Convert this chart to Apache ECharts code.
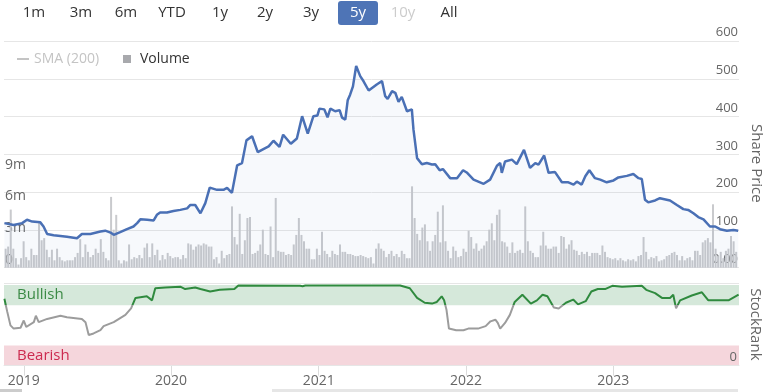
<!DOCTYPE html>
<html><head><meta charset="utf-8">
<script src="https://cdn.jsdelivr.net/npm/echarts@6/dist/echarts.min.js"></script>
<style>html,body{margin:0;padding:0;background:#fff}#c{width:765px;height:392px}</style>
</head><body><div id="c"></div>
<script>
// ---------- DATA ----------
const priceDates = ['2018-11-14','2018-12-07','2018-12-28','2019-01-09','2019-01-22','2019-02-11','2019-02-19','2019-02-28','2019-03-16','2019-04-02',
'2019-04-18','2019-05-13','2019-05-25','2019-06-15','2019-07-10','2019-07-22','2019-08-04','2019-08-12','2019-08-28','2019-09-14',
'2019-09-30','2019-10-09','2019-10-17','2019-11-03','2019-11-19','2019-11-27','2019-12-05','2019-12-22','2020-01-07','2020-01-24',
'2020-02-10','2020-02-18','2020-03-01','2020-03-14','2020-03-26','2020-04-06','2020-04-24','2020-05-10','2020-05-19','2020-05-31',
'2020-06-13','2020-06-25','2020-07-06','2020-07-20','2020-08-03','2020-08-17','2020-08-30','2020-09-11','2020-09-26','2020-10-05',
'2020-10-24','2020-11-08','2020-11-21','2020-12-05','2020-12-19','2020-12-29','2021-01-03','2021-01-15','2021-01-23','2021-01-30',
'2021-02-11','2021-02-22','2021-02-28','2021-03-08','2021-03-14','2021-03-20','2021-03-27','2021-04-04','2021-04-14','2021-04-22',
'2021-05-05','2021-05-09','2021-05-25','2021-06-07','2021-06-15','2021-06-21','2021-07-02','2021-07-10','2021-07-18','2021-07-26',
'2021-08-08','2021-08-20','2021-08-24','2021-09-02','2021-09-14','2021-09-26','2021-10-09','2021-10-17','2021-10-28','2021-11-05',
'2021-11-23','2021-12-10','2021-12-25','2022-01-03','2022-01-20','2022-02-14','2022-03-02','2022-03-19','2022-03-27','2022-03-31',
'2022-04-08','2022-04-25','2022-05-07','2022-05-25','2022-06-09','2022-06-22','2022-06-30','2022-07-14','2022-07-25','2022-08-10',
'2022-08-27','2022-09-12','2022-09-25','2022-10-03','2022-10-15','2022-10-24','2022-11-03','2022-11-17','2022-11-30','2022-12-16',
'2023-01-02','2023-01-14','2023-02-04','2023-02-20','2023-03-05','2023-03-13','2023-03-21','2023-03-29','2023-04-15','2023-04-27',
'2023-05-22','2023-06-08','2023-06-24','2023-07-06','2023-07-19','2023-07-31','2023-08-13','2023-08-29','2023-09-11','2023-09-23',
'2023-10-10','2023-10-26','2023-11-07'];
const priceValues = [118,113,118,127,122,120,109,89,86,84,
82,78,89,89,96,98,93,87,94,102,
109,118,128,127,125,140,146,146,150,153,
157,166,166,144,171,212,206,206,211,198,
271,277,337,348,306,314,321,336,320,352,
328,342,401,355,401,403,421,419,398,421,
414,417,397,392,443,458,480,534,507,494,
469,465,485,494,454,447,467,463,439,452,
414,419,366,290,274,277,273,274,258,261,
237,237,258,252,233,222,233,270,277,251,
281,286,274,312,264,277,273,297,251,253,
226,226,220,228,220,242,258,237,233,226,
231,239,243,248,237,235,180,173,178,184,
178,166,155,153,144,134,128,109,109,102,
98,100,98];

// volume in millions, evenly spaced bars from first to last bar date
const volumeFirstDate = '2018-11-17';
const volumeLastDate = '2023-11-02';
const volumeValues = [
1.8,2.0,5.5,1.8,0.9,0.3,0.9,2.5,1.0,0.7,1.8,1.2,1.2,4.4,2.6,2.8,1.7,1.0,1.7,0.7,1.8,1.0,0.7,0.6,0.7,0.7,0.7,1.0,1.4,2.7,1.0,2.2,1.5,1.0,1.2,1.8,1.4,2.7,1.5,0.9,0.7,6.7,3.6,5.0,0.7,0.4,0.7,0.6,
2.2,0.8,1.0,0.9,1.2,0.9,1.9,2.3,1.0,2.3,1.2,1.7,0.7,1.2,0.8,1.4,1.1,0.9,1.0,1.0,0.8,1.2,0.9,2.3,2.2,1.7,2.0,
2.2,2.1,2.3,2.2,2.0,2.0,0.8,1.0,0.4,1.6,0.9,1.2,1.3,5.8,2.9,2.2,5.1,1.3,2.6,4.7,4.8,1.3,1.4,1.6,2.2,3.6,1.3,1.2,3.9,1.0,6.6,1.6,1.5,1.5,1.2,1.3,1.2,2.2,3.1,4.7,3.1,2.5,1.8,1.8,0.8,0.8,1.8,1.2,3.4,1.6,1.3,1.0,1.6,1.3,1.2,2.2,1.5,1.5,1.3,1.3,1.2,1.1,1.1,1.2,1.1,1.0,0.9,1.0,0.4,1.8,2.3,1.8,1.6,1.0,1.3,1.6,1.1,1.3,1.0,1.6,1.3,0.9,0.9,7.7,4.7,3.2,2.6,3.8,4.1,2.5,1.6,2.5,3.1,5.3,2.4,5.9,2.5,1.6,0.9,2.0,1.6,1.0,1.1,1.8,1.5,
3.5,2.9,1.8,2.3,1.6,1.8,2.1,2.5,3.6,4.2,2.6,5.0,5.5,2.5,2.4,2.0,1.4,2.4,1.4,1.6,1.7,1.4,5.8,2.5,1.6,1.4,1.0,1.0,2.1,3.4,2.1,1.8,1.8,2.0,2.0,1.4,3.0,2.9,1.8,2.2,2.6,1.7,1.6,1.2,1.5,1.3,1.5,1.1,1.4,1.4,1.4,1.2,2.1,1.5,1.0,0.9,0.8,0.9,0.7,0.9,0.7,0.6,0.8,0.7,0.8,0.6,1.1,1.2,2.9,1.5,0.8,1.0,0.9,1.1,0.6,0.7,0.8,1.1,1.2,1.4,1.5,1.2,0.7,1.1,0.7,0.9,1.0,0.7,1.6,1.6,1.2,2.4,2.6,2.8,2.4,6.0,1.8,1.1,1.5,0.9,1.6,1.8,3.0,2.5,1.5];

const rankDates = ['2018-11-14','2018-11-21','2018-11-29','2018-12-07','2018-12-24','2019-01-01','2019-01-07','2019-01-26','2019-01-31','2019-02-07',
'2019-02-28','2019-04-02','2019-04-18','2019-05-25','2019-06-03','2019-06-11','2019-06-23','2019-07-10','2019-07-18','2019-08-12',
'2019-09-10','2019-09-24','2019-10-05','2019-11-02','2019-11-15','2019-11-23','2019-12-18','2020-01-24','2020-02-05','2020-03-01',
'2020-03-14','2020-04-07','2020-05-01','2020-06-06','2020-06-16','2020-11-16','2020-11-22','2020-11-29','2021-07-22','2021-08-15',
'2021-09-02','2021-09-21','2021-10-09','2021-10-21','2021-11-02','2021-11-08','2021-11-14','2021-11-20','2021-12-08','2021-12-26',
'2022-01-07','2022-01-31','2022-02-19','2022-03-03','2022-03-15','2022-03-21','2022-03-27','2022-04-08','2022-04-20','2022-05-02',
'2022-05-21','2022-06-11','2022-06-26','2022-07-10','2022-07-22','2022-08-07','2022-08-19','2022-09-06','2022-09-24','2022-10-06',
'2022-10-25','2022-11-08','2022-11-24','2022-12-12','2022-12-30','2023-01-23','2023-03-13','2023-03-24','2023-04-15','2023-05-02',
'2023-05-22','2023-05-30','2023-06-06','2023-06-16','2023-07-15','2023-08-09','2023-08-25','2023-09-19','2023-10-14','2023-11-08'];
const rankValues = [83,67,50,46,47,56,48,54,62,54,
58,62,60,58,54,38,40,44,49,54,
63,71,84,86,81,96,97,98,95,97,
95,92,94,95,99.5,99,98.5,99.5,99.5,96,
84,78,77,79,86,81,69,46,44,44,
46,46,49,55,57,53,46,53,63,79,
88,77,81,88,86,72,71,78,82,76,
80,92,95,95,99,98,99,94,90,84,
84,88,71,81,87,91,81,81,81,88];

const yearTicks = ['2019-01-01','2020-01-01','2021-01-01','2022-01-01','2023-01-01'];
const rangeButtons = ['1m','3m','6m','YTD','1y','2y','3y','5y','10y','All'];
const rangeSelected = '5y';
const rangeDisabled = '10y';
const bullishBand = [75, 100];
const bearishBand = [0, 25];
const viewStart = '2018-11-13';
const viewEnd = '2023-11-09';

// ---------- CHART ----------
const ts = s => new Date(s + 'T00:00:00').getTime();
const FONT = "'Open Sans', 'Noto Sans', sans-serif";
const xMin = ts(viewStart), xMax = ts(viewEnd);
const yearTs = yearTicks.map(ts);

const priceData = priceDates.map((d, i) => [ts(d), priceValues[i]]);
const v0 = ts(volumeFirstDate), v1 = ts(volumeLastDate);
const volData = volumeValues.map((v, i) => [v0 + i * (v1 - v0) / (volumeValues.length - 1), v]);
const rankData = rankDates.map((d, i) => [ts(d), rankValues[i]]);

const btnX = [34, 81, 126, 172, 220, 265, 311, 358, 403, 449];
const graphics = [];
rangeButtons.forEach((t, i) => {
  if (t === rangeSelected) {
    graphics.push({type: 'rect', shape: {x: btnX[i] - 20, y: 1, width: 40, height: 24, r: 3}, style: {fill: '#4e74b6'}});
  }
  graphics.push({type: 'text', x: btnX[i], y: 13, style: {
    text: t, fill: t === rangeSelected ? '#ffffff' : (t === rangeDisabled ? '#cccccc' : '#333333'),
    fontSize: 15, fontFamily: FONT, align: 'center', verticalAlign: 'middle'}});
});
graphics.push({type: 'rect', shape: {x: 272, y: 389, width: 466, height: 3}, style: {fill: '#e6e6e6'}});
graphics.push({type: 'rect', shape: {x: 0, y: 389, width: 22, height: 3}, style: {fill: '#cccccc'}});

const chart = echarts.init(document.getElementById('c'), null, {renderer: 'canvas'});
chart.setOption({
  animation: false,
  textStyle: {fontFamily: FONT},
  grid: [
    {left: 4, right: 26, top: 41, height: 226.7, outerBoundsMode: 'none', containLabel: false},
    {left: 4, right: 26, top: 283, height: 82.7, outerBoundsMode: 'none', containLabel: false}
  ],
  legend: [
    {data: ['SMA (200)'], left: 12, top: 47, icon: 'rect', itemWidth: 12, itemHeight: 2,
     selected: {'SMA (200)': false}, inactiveColor: '#c4c4c4',
     textStyle: {fontSize: 14, color: '#333', fontFamily: FONT}},
    {data: ['Volume'], left: 118, top: 47, icon: 'rect', itemWidth: 8, itemHeight: 8,
     itemStyle: {color: '#a8a9ad'},
     textStyle: {fontSize: 14, color: '#333', fontFamily: FONT, padding: [0, 0, 0, 4]}}
  ],
  xAxis: [
    {type: 'value', gridIndex: 0, min: xMin, max: xMax, show: false},
    {type: 'value', gridIndex: 1, min: xMin, max: xMax,
     axisLine: {show: true, lineStyle: {color: '#e6e6e6'}},
     axisTick: {show: true, customValues: yearTs, length: 10, lineStyle: {color: '#dcdcdc'}},
     axisLabel: {customValues: yearTs, formatter: v => String(new Date(v).getFullYear()),
                 color: '#666', fontSize: 14, margin: 8},
     splitLine: {show: false}}
  ],
  yAxis: [
    {type: 'value', gridIndex: 0, position: 'right', min: 0, max: 600, interval: 100,
     name: 'Share Price', nameLocation: 'middle', nameRotate: -90, nameGap: 7,
     nameTextStyle: {color: '#666', fontSize: 15, padding: [0, 0, 0, 18]},
     axisLine: {show: false}, axisTick: {show: false},
     axisLabel: {inside: true, color: '#666', fontSize: 13, verticalAlign: 'bottom', margin: 1,
                 padding: [0, 0, 2, 0], formatter: v => v === 0 ? '0.00' : String(v)},
     splitLine: {lineStyle: {color: '#e6e6e6'}}},
    {type: 'value', gridIndex: 0, position: 'left', min: 0, max: 21.45, interval: 3,
     axisLine: {show: false}, axisTick: {show: false}, splitLine: {show: false},
     axisLabel: {inside: true, color: '#666', fontSize: 14, verticalAlign: 'bottom', margin: 1,
                 padding: [0, 0, 1, 0], formatter: v => v === 0 ? '0' : (v <= 9 ? v + 'm' : '')}},
    {type: 'value', gridIndex: 1, position: 'right', min: 0, max: 102.5, interval: 102.5, z: 10,
     name: 'StockRank', nameLocation: 'middle', nameRotate: -90, nameGap: 7,
     nameTextStyle: {color: '#666', fontSize: 15},
     axisLine: {show: false}, axisTick: {show: false},
     axisLabel: {show: true, inside: true, showMinLabel: true, color: '#666', fontSize: 13, verticalAlign: 'bottom', margin: 2,
                 padding: [0, 0, 2, 0], formatter: v => v === 0 ? '0' : ''},
     splitLine: {lineStyle: {color: '#e6e6e6'}}}
  ],
  visualMap: [{
    type: 'piecewise', show: false, seriesIndex: 3, dimension: 1,
    pieces: [{gte: 0, lt: bullishBand[0], color: '#9c9c9c'}, {gte: bullishBand[0], lte: 102.5, color: '#2f8a3e'}]
  }],
  series: [
    {name: 'SMA (200)', type: 'line', xAxisIndex: 0, yAxisIndex: 0, data: [], color: '#cccccc'},
    {name: 'Volume', type: 'bar', xAxisIndex: 0, yAxisIndex: 1, data: volData, barWidth: 2,
     itemStyle: {color: '#c9cacd'}, z: 2},
    {name: 'Share Price', type: 'line', xAxisIndex: 0, yAxisIndex: 0, data: priceData,
     showSymbol: false, lineStyle: {color: '#4a70b5', width: 2.5}, color: '#4a70b5',
     areaStyle: {color: 'rgba(74,112,181,0.06)'}, z: 3},
    {name: 'StockRank', type: 'line', xAxisIndex: 1, yAxisIndex: 2, data: rankData,
     showSymbol: false, lineStyle: {width: 2}, z: 3,
     markArea: {silent: true, z: 1, data: [
       [{yAxis: bullishBand[0], name: 'Bullish', itemStyle: {color: '#d5e8da'},
         label: {color: '#3b8a45'}}, {yAxis: bullishBand[1]}],
       [{yAxis: bearishBand[0], name: 'Bearish', itemStyle: {color: '#f5d6dc'},
         label: {color: '#cc2a4f'}}, {yAxis: bearishBand[1]}]
     ], label: {show: true, position: 'insideLeft', distance: 13, fontSize: 15, fontFamily: FONT}}}
  ],
  graphic: graphics
});
</script></body></html>
